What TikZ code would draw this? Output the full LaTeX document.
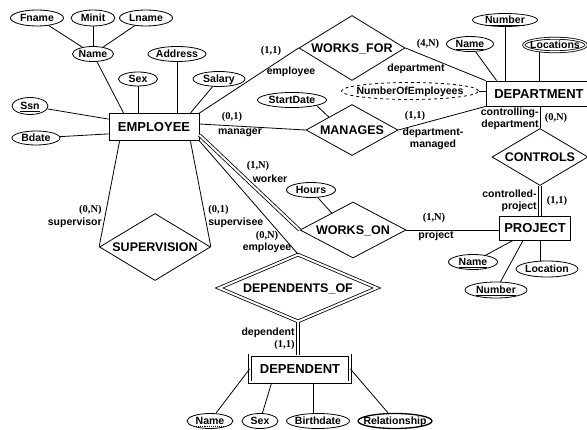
\documentclass[tikz,border=0pt]{standalone}
\usepackage{fontspec}
\setmainfont{Liberation Serif}
\setsansfont{Liberation Sans}
\usetikzlibrary{shapes.geometric,calc}

\newcommand{\entfont}{\fontsize{13}{15}\selectfont\sffamily\bfseries}
\newcommand{\relfont}{\fontsize{12.5}{14}\selectfont\sffamily\bfseries}
\newcommand{\attfont}{\fontsize{10.5}{12}\selectfont\sffamily\bfseries}
\newcommand{\cardfont}{\fontsize{10.5}{12}\selectfont\rmfamily\bfseries}

\tikzset{
  fittext/.style={execute at begin node={\hbox to 0pt\bgroup\hss}, execute at end node={\hss\egroup}},
  entity/.style={draw, rectangle, inner sep=0pt, font=\entfont, text height=9.3pt, text depth=0pt},
  weakentity/.style={entity, double, double distance=2pt},
  attr/.style={draw, ellipse, inner sep=0pt, fittext, font=\attfont, text height=7.5pt, text depth=0pt},
  multiattr/.style={attr, double, double distance=1.2pt},
  derivedattr/.style={attr, dashed},
  rel/.style={draw, diamond, inner sep=0pt, fittext, font=\relfont, text height=9pt, text depth=0pt},
  weakrel/.style={rel, double, double distance=2pt},
  card/.style={font=\cardfont, inner sep=0pt},
  role/.style={font=\attfont, inner sep=0pt, align=center},
  total/.style={double, double distance=2pt},
  partialkey/.style={line width=1.1pt, dash pattern=on 1.1pt off 1pt},
}

\begin{document}
\begin{tikzpicture}[x=1pt, y=-1pt, line width=0.8pt]
  \clip (0,0) rectangle (587,430);

  % entities
  \node [entity, minimum width=90, minimum height=27] (emp) at (154,127) {EMPLOYEE};
  \node [entity, minimum width=106, minimum height=25] (dept) at (539,93.5) {DEPARTMENT};
  \node [entity, minimum width=71, minimum height=24] (proj) at (535,228) {PROJECT};
  \node [weakentity, minimum width=100, minimum height=27] (dep) at (300,369) {DEPENDENT};

  % relationships
  \node [rel, minimum width=106, minimum height=65] (worksfor) at (352,48) {WORKS\_FOR};
  \node [rel, minimum width=92, minimum height=51] (manages) at (352,130) {MANAGES};
  \node [rel, minimum width=96, minimum height=57] (ctrl) at (540,157) {CONTROLS};
  \node [rel, minimum width=106, minimum height=56] (workson) at (353,230) {WORKS\_ON};
  \node [rel, minimum width=111, minimum height=67] (superv) at (155,247) {SUPERVISION};
  \node [weakrel, minimum width=158, minimum height=67] (depof) at (298,288) {DEPENDENTS\_OF};

  % attributes
  \node [attr, minimum width=53, minimum height=16] (fname) at (37,18) {Fname};
  \node [attr, minimum width=44, minimum height=16] (minit) at (93,18) {Minit};
  \node [attr, minimum width=53, minimum height=16] (lname) at (146,18) {Lname};
  \node [attr, minimum width=41, minimum height=15] (name) at (93,54) {Name};
  \node [attr, minimum width=58, minimum height=15] (address) at (177,54) {Address};
  \node [attr, minimum width=39, minimum height=14] (sex) at (138,79) {Sex};
  \node [attr, minimum width=52, minimum height=15] (salary) at (219,79) {Salary};
  \node [attr, minimum width=36, minimum height=17] (ssn) at (30,106) {\underline{Ssn}};
  \node [attr, minimum width=48, minimum height=14] (bdate) at (36,138) {Bdate};
  \node [attr, minimum width=69, minimum height=15] (startdate) at (292,100) {StartDate};
  \node [derivedattr, minimum width=137, minimum height=17] (noe) at (410,91) {NumberOfEmployees};
  \node [attr, minimum width=47, minimum height=15] (dname) at (470,44) {\underline{Name}};
  \node [attr, minimum width=65, minimum height=13] (dnumber) at (505,20) {\underline{Number}};
  \node [multiattr, minimum width=62.5, minimum height=13.5] (locations) at (555,45) {Locations};
  \node [attr, minimum width=49, minimum height=15] (hours) at (311,190) {Hours};
  \node [attr, minimum width=49, minimum height=15] (pname) at (473,262) {\underline{Name}};
  \node [attr, minimum width=62, minimum height=16] (pnumber) at (496,290) {\underline{Number}};
  \node [attr, minimum width=62, minimum height=16] (plocation) at (547,269) {Location};
  \node [attr, minimum width=46, minimum height=15] (depname) at (210,421) {Name};
  \node [attr, minimum width=36, minimum height=15] (depsex) at (260,421) {Sex};
  \node [attr, minimum width=63, minimum height=15] (birthdate) at (318,421) {Birthdate};
  \node [attr, line width=1.3pt, minimum width=74, minimum height=15] (relationship) at (395,421) {Relationship};
  \draw [partialkey] ($(depname.base)+(-14,2.2)$) -- ($(depname.base)+(14,2.2)$);

  % attribute lines
  \draw (fname) -- (name);
  \draw (minit) -- (name);
  \draw (lname) -- (name);
  \draw (name) -- ($(emp.north west)+(15,0)$);
  \draw (sex) -- (sex |- emp.north);
  \draw (address) -- (address |- emp.north);
  \draw (salary) -- ($(emp.north east)+(-9,0)$);
  \draw (ssn) -- ($(emp.north west)+(0,6)$);
  \draw (bdate) -- ($(emp.south west)+(0,-7)$);
  \draw (startdate.south east) -- ($(manages.west)!0.5!(manages.north)$);
  \draw (noe.east) -- (noe.east -| dept.west);
  \draw (dname) -- ($(dept.north west)+(11,0)$);
  \draw (dnumber) -- (dnumber |- dept.north);
  \draw (dept.north) -- (dept.north |- locations.south);
  \draw (hours) -- ($(workson.west)!0.6!(workson.north)$);
  \draw (pname) -- ($(proj.south west)+(14,0)$);
  \draw (pnumber) -- ($(proj.south west)+(24,0)$);
  \coordinate (plocjoin) at ($(proj.south)+(5,0)$);
  \draw (plocjoin) -- (plocjoin |- plocation.north);
  \draw (depname) -- (dep.west);
  \draw (depsex) -- ($(dep.south west)+(22,0)$);
  \coordinate (bdjoin) at ($(dep.south)+(13,0)$);
  \draw (bdjoin) -- (bdjoin |- birthdate.north);
  \draw (relationship) -- (dep.east);

  % relationship lines
  \draw (emp.north east) -- (worksfor.west);
  \draw (worksfor.east) -- (dept.north west);
  \draw ($(emp.east)+(0,-3)$) -- (manages.west);
  \draw (manages.east) -- (dept.south west);
  \draw (dept.south -| ctrl.north) -- (ctrl.north);
  \draw [total] (ctrl.south) -- (ctrl.south |- proj.north);
  \draw [total] ($(emp.east)+(0,8)$) -- (workson.west);
  \draw (workson.east) -- (workson.east -| proj.west);
  \draw ($(emp.south west)+(11,0)$) -- (superv.west);
  \draw ($(emp.south east)+(-9,0)$) -- (superv.east);
  \draw (emp.south east) -- (depof.north);
  \draw [total] (depof.south) -- (depof.south |- dep.north);

  % roles and cardinalities
  \node [card] (c1) at (271,51) {(1,1)};
  \node [role] (r1) at (291,72) {employee};
  \node [card] (c2) at (428,44) {(4,N)};
  \node [role] (r2) at (416,69) {department};
  \node [card] (c3) at (232,117) {(0,1)};
  \node [role] (r3) at (240,133) {manager};
  \node [card] (c4) at (415,116) {(1,1)};
  \node [role] (r4) at (433,139) {department-\\managed};
  \node [role, align=right, anchor=east] (r5) at (539,119) {controlling-\\department};
  \node [card] (c5) at (556,118) {(0,N)};
  \node [role, align=right, anchor=east] (r6) at (537,200.5) {controlled-\\project};
  \node [card] (c6) at (557,201) {(1,1)};
  \node [card] (c7) at (434,218) {(1,N)};
  \node [role] (r7) at (436,236) {project};
  \node [card] (c8) at (258,166) {(1,N)};
  \node [role] (r8) at (270,179) {worker};
  \node [card, anchor=east] (c9) at (102,210) {(0,N)};
  \node [role, anchor=east] (r9) at (102,223) {supervisor};
  \node [card, anchor=west] (c10) at (208,210) {(0,1)};
  \node [role, anchor=west] (r10) at (208,223) {supervisee};
  \node [card] (c11) at (267,236) {(0,N)};
  \node [role] (r11) at (267,248) {employee};
  \node [role, anchor=east] (r12) at (295,333) {dependent};
  \node [card, anchor=east] (c12) at (295,345) {(1,1)};
\end{tikzpicture}
\end{document}
